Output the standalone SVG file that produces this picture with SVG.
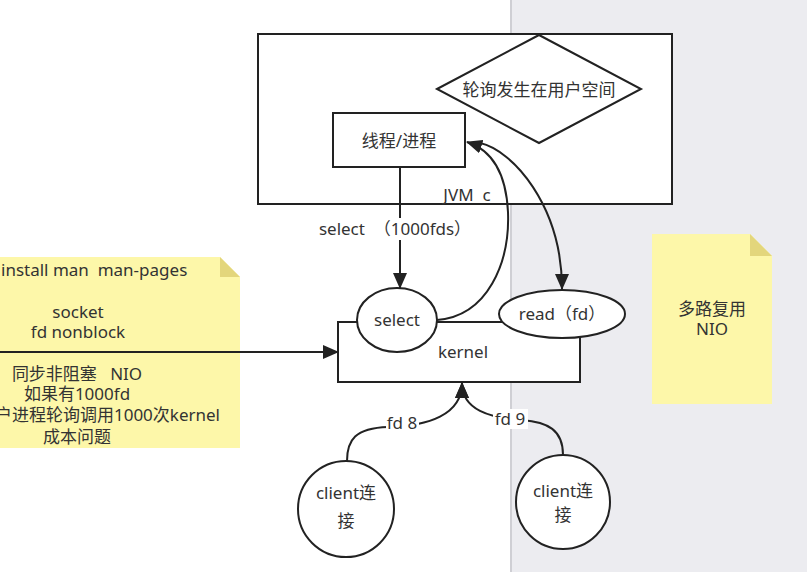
<svg xmlns="http://www.w3.org/2000/svg" width="807" height="572" viewBox="0 0 807 572">
<defs>
<style>
text{font-family:"Noto Sans","Noto Sans CJK SC",sans-serif;font-size:17px;fill:#333;text-anchor:middle;white-space:pre}
.ln{fill:none;stroke:#222;stroke-width:2}
.sh{fill:#fff;stroke:#222;stroke-width:2}
.note{fill:#fdf7a9}
.fold{fill:#e3d67c}
.lbl{fill:#fff}
</style>
<marker id="ah" markerUnits="userSpaceOnUse" markerWidth="16" markerHeight="14" refX="15" refY="7" orient="auto">
<path d="M0,0 L16,7 L0,14 Z" fill="#222"/>
</marker>
</defs>
<rect x="0" y="0" width="807" height="572" fill="#fff"/>
<rect x="511" y="0" width="296" height="572" fill="#ececf0"/>
<line x1="511" y1="0" x2="511" y2="572" stroke="#cfcfd4" stroke-width="2"/>

<g id="jvm">
<rect class="sh" x="258" y="34" width="414" height="170"/>
<text x="467" y="201" font-size="16" xml:space="preserve">JVM  c</text>
</g>
<g id="polling-note">
<polygon class="sh" points="437,89 539,35 641,89 539,143"/>
<text x="539" y="96">轮询发生在用户空间</text>
</g>
<g id="thread">
<rect class="sh" x="333" y="113" width="132" height="54"/>
<text x="399" y="147">线程/进程</text>
</g>

<g id="left-note">
<polygon class="note" points="-5,257 220,257 240,277 240,448 -5,448"/>
<polygon class="fold" points="220,257 240,277 220,277"/>
<text x="1" y="276" style="text-anchor:start" xml:space="preserve">install man  man-pages</text>
<text x="78" y="318">socket</text>
<text x="78" y="338">fd nonblock</text>
<text x="77" y="380" xml:space="preserve">同步非阻塞   NIO</text>
<text x="77" y="400">如果有1000fd</text>
<text x="220" y="421" style="text-anchor:end">户进程轮询调用1000次kernel</text>
<text x="77" y="443">成本问题</text>
</g>

<g id="right-note">
<polygon class="note" points="652,234 750,234 772,256 772,404 652,404"/>
<polygon class="fold" points="750,234 772,256 750,256"/>
<text x="712" y="315">多路复用</text>
<text x="712" y="335">NIO</text>
</g>

<g id="kernel">
<rect class="sh" x="338" y="322" width="242" height="60"/>
<text x="463" y="358">kernel</text>
</g>
<g id="select">
<ellipse class="sh" cx="397" cy="320" rx="40" ry="32"/>
<text x="397" y="326">select</text>
</g>
<g id="read">
<ellipse class="sh" cx="562" cy="314" rx="63" ry="24"/>
<text x="562" y="320">read（fd）</text>
</g>

<g id="client1">
<circle class="sh" cx="346" cy="509" r="48"/>
<text x="346" y="499">client连</text>
<text x="346" y="527">接</text>
</g>
<g id="client2">
<circle class="sh" cx="563" cy="502" r="47"/>
<text x="563" y="497">client连</text>
<text x="563" y="521">接</text>
</g>

<g id="connectors">
<line class="ln" x1="400" y1="167" x2="400" y2="288" marker-end="url(#ah)"/>
<rect class="lbl" x="318" y="218" width="154" height="22"/>
<text x="395" y="235" font-size="16" xml:space="preserve">select  （1000fds）</text>
<path class="ln" d="M437,320 C488,316 510,262 508,212 C506,172 492,150 467,142" marker-end="url(#ah)"/>
<path class="ln" d="M480,143 C512,150 562,205 562,289" marker-end="url(#ah)"/>
<line class="ln" x1="0" y1="352" x2="338" y2="352" marker-end="url(#ah)"/>
<path class="ln" d="M347,461 C347,440 355,428 388,427 C428,426 462,415 462,383" marker-end="url(#ah)"/>
<path class="ln" d="M563,455 C563,430 548,422 522,420 C490,418 462,410 462,383" marker-end="url(#ah)"/>
<rect class="lbl" x="386" y="413" width="33" height="20"/>
<text x="402" y="429" font-size="16">fd 8</text>
<rect class="lbl" x="493" y="409" width="35" height="20"/>
<text x="510" y="425" font-size="16">fd 9</text>
</g>
</svg>
